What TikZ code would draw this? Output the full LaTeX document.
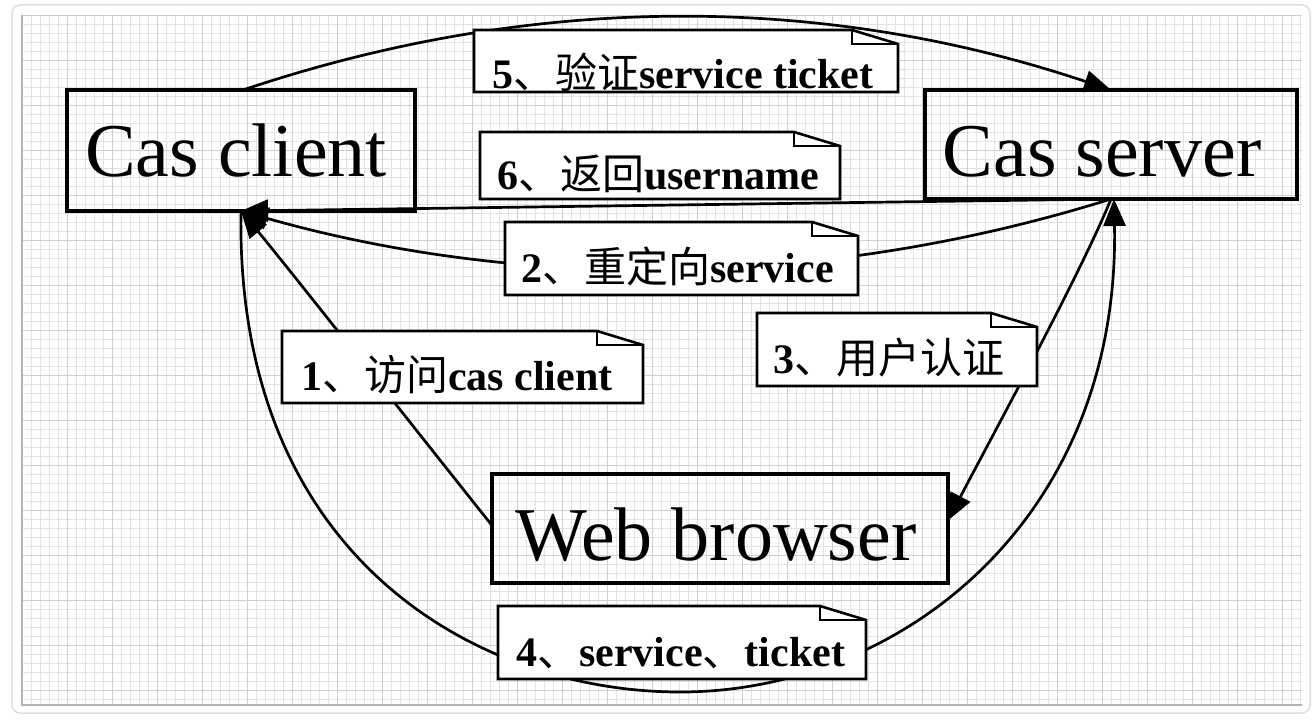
\documentclass[tikz,border=0pt]{standalone}
\usepackage{fontspec}
\setmainfont{Liberation Serif}
\newfontfamily\cjk{Noto Sans CJK SC}
\usetikzlibrary{arrows.meta}
\newcommand\mknote[5]{%
  \node[holder, minimum width=#4pt, minimum height=#5pt] (#1) at (#2,#3) {};
  \filldraw[notedraw] (#1.north west) -- ([xshift=-46pt]#1.north east) -- ([yshift=-14pt]#1.north east) -- (#1.south east) -- (#1.south west) -- cycle;
  \draw[notedraw, fill=none] ([xshift=-46pt]#1.north east) |- ([yshift=-14pt]#1.north east);
}
\begin{document}
\begin{tikzpicture}[x=1pt,y=-1pt,
  box/.style={draw, line width=3.8pt, inner sep=0pt, outer sep=0pt},
  boxtxt/.style={font=\fontsize{76}{80}\selectfont, inner sep=0pt, anchor=base},
  notedraw/.style={draw=black, fill=white, line width=2.6pt, line join=miter},
  holder/.style={inner sep=0pt, outer sep=0pt},
  lbl/.style={font=\fontsize{42}{45}\selectfont, inner sep=0pt, anchor=base west},
  conn/.style={line width=2.7pt, -{Triangle[length=27pt,width=22pt]}},
  gridminor/.style={gray!22, line width=0.6pt},
  gridmajor/.style={gray!38, line width=0.8pt}
]
\useasboundingbox (0,0) rectangle (1316,727);
\fill[white] (0,0) rectangle (1316,727);
% outer frame
\draw[gray!25, line width=1.5pt, rounded corners=8pt] (12,5) rectangle (1310,713);
% grid
\foreach \x in {22,31,...,1302} \draw[gridminor] (\x,15) -- (\x,705);
\foreach \y in {15,24,...,705} \draw[gridminor] (22,\y) -- (1302,\y);
\foreach \x in {22,67,...,1302} \draw[gridmajor] (\x,15) -- (\x,705);
\foreach \y in {15,60,...,705} \draw[gridmajor] (22,\y) -- (1302,\y);
\draw[gray!60, line width=1.2pt] (22,15) -- (22,705) -- (1302,705);

% main boxes (anchors)
\node[box, minimum width=348pt, minimum height=121pt] (client) at (241,150.5) {};
\node[box, minimum width=372pt, minimum height=109pt] (server) at (1111,144.5) {};
\node[box, minimum width=456pt, minimum height=109pt] (web) at (720,528.5) {};

% connectors
\draw[conn] ([xshift=2pt]client.north) .. controls (532,-7) and (821,-7) .. (server.north);
\draw[conn] (server.south) -- (client.south);
\draw[conn] (server.south) .. controls (820,290) and (520,290) .. (client.south);
\draw[conn] ([yshift=3pt]web.west) .. controls (400,410) and (290,270) .. (client.south);
\draw[conn] (client.south) .. controls (235,560) and (480,692) .. (680,692) .. controls (900,692) and (1120,520) .. ([xshift=3pt]server.south);
\draw[conn] (server.south) .. controls (1080,275) and (990,440) .. ([yshift=8pt]web.east);

% notes
\mknote{n5}{686}{61}{424}{62}
\mknote{n6}{660}{165.5}{360}{67}
\mknote{n2}{681.5}{258.5}{353}{73}
\mknote{n1}{462.5}{367}{361}{72}
\mknote{n3}{897}{349.5}{280}{73}
\mknote{n4}{682}{642.5}{368}{73}

\node[lbl] (t5) at (492,89) {\textbf{5}{\cjk 、验证}\textbf{service ticket}};
\node[lbl] (t6) at (497,190) {\textbf{6}{\cjk 、返回}\textbf{username}};
\node[lbl] (t2) at (521,282) {\textbf{2}{\cjk 、重定向}\textbf{service}};
\node[lbl] (t1) at (301,390) {\textbf{1}{\cjk 、访问}\textbf{cas client}};
\node[lbl] (t3) at (773,373) {\textbf{3}{\cjk 、用户认证}};
\node[lbl] (t4) at (516,666) {\textbf{4}{\cjk 、}\textbf{service}{\cjk 、}\textbf{ticket}};

% redraw box borders on top
\draw[line width=3.8pt] (client.south west) rectangle (client.north east);
\draw[line width=3.8pt] (server.south west) rectangle (server.north east);
\draw[line width=3.8pt] (web.south west) rectangle (web.north east);

\node[boxtxt] (clientt) at (236,177) {Cas client};
\node[boxtxt] (servert) at (1102,177) {Cas server};
\node[boxtxt] (webt) at (716,560) {Web browser};
\end{tikzpicture}
\end{document}
